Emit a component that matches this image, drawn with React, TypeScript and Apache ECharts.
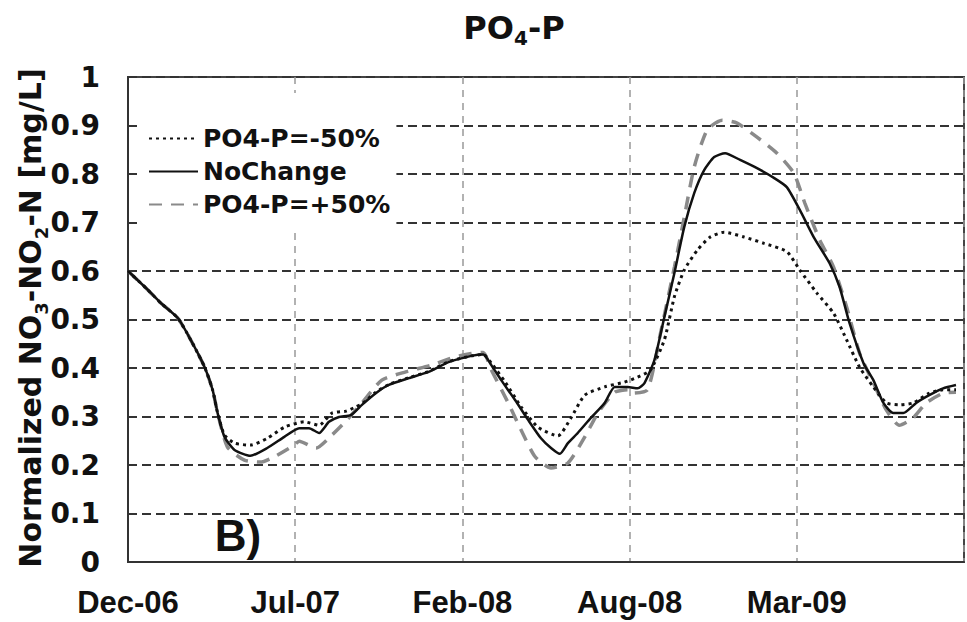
import React, { useEffect, useRef } from "react";
import * as echarts from "echarts";

// x positions are in axis-tick units (0 = Dec-06, 1 = Jul-07, 2 = Feb-08, 3 = Aug-08, 4 = Mar-09)
const xTickLabels = ["Dec-06", "Jul-07", "Feb-08", "Aug-08", "Mar-09", ""];
const yTicks = [0, 0.1, 0.2, 0.3, 0.4, 0.5, 0.6, 0.7, 0.8, 0.9, 1];

const noChange: [number, number][] = [
  [0, 0.6], [0.119, 0.561], [0.196, 0.534], [0.298, 0.503], [0.375, 0.458], [0.458, 0.402],
  [0.506, 0.355], [0.536, 0.307], [0.577, 0.258], [0.637, 0.231], [0.732, 0.219], [0.833, 0.235],
  [0.935, 0.258], [1.024, 0.276], [1.083, 0.276], [1.143, 0.266], [1.202, 0.289], [1.262, 0.299],
  [1.333, 0.303], [1.399, 0.324], [1.482, 0.348], [1.56, 0.365], [1.679, 0.379], [1.798, 0.392],
  [1.917, 0.412], [2.054, 0.425], [2.125, 0.428], [2.173, 0.406], [2.232, 0.375], [2.315, 0.334],
  [2.393, 0.293], [2.47, 0.255], [2.53, 0.235], [2.583, 0.223], [2.631, 0.245], [2.69, 0.266],
  [2.768, 0.297], [2.851, 0.328], [2.911, 0.361], [2.988, 0.361], [3.048, 0.358], [3.089, 0.369],
  [3.149, 0.417], [3.208, 0.505], [3.268, 0.596], [3.327, 0.691], [3.387, 0.761], [3.446, 0.808],
  [3.506, 0.835], [3.571, 0.843], [3.661, 0.829], [3.762, 0.812], [3.863, 0.792], [3.94, 0.773],
  [4.018, 0.726], [4.101, 0.67], [4.196, 0.616], [4.256, 0.567], [4.315, 0.493], [4.399, 0.41],
  [4.458, 0.375], [4.518, 0.328], [4.577, 0.307], [4.637, 0.307], [4.714, 0.328], [4.792, 0.344],
  [4.875, 0.358], [4.952, 0.365],
];

const minus50: [number, number][] = [
  [0, 0.6], [0.119, 0.561], [0.196, 0.534], [0.298, 0.503], [0.375, 0.458], [0.458, 0.402],
  [0.506, 0.355], [0.536, 0.307], [0.577, 0.262], [0.637, 0.245], [0.732, 0.241], [0.833, 0.255],
  [0.935, 0.278], [1.054, 0.289], [1.143, 0.282], [1.22, 0.307], [1.304, 0.311], [1.363, 0.32],
  [1.399, 0.326], [1.482, 0.35], [1.56, 0.366], [1.679, 0.38], [1.798, 0.393], [1.917, 0.413],
  [2.054, 0.425], [2.125, 0.428], [2.173, 0.41], [2.256, 0.371], [2.351, 0.32], [2.452, 0.278],
  [2.571, 0.26], [2.649, 0.297], [2.732, 0.344], [2.851, 0.361], [2.97, 0.371], [3.048, 0.381],
  [3.125, 0.396], [3.208, 0.458], [3.268, 0.547], [3.327, 0.602], [3.405, 0.643], [3.482, 0.67],
  [3.565, 0.68], [3.685, 0.67], [3.804, 0.657], [3.94, 0.64], [4.018, 0.602], [4.119, 0.555],
  [4.22, 0.513], [4.298, 0.458], [4.375, 0.402], [4.458, 0.361], [4.536, 0.328], [4.613, 0.324],
  [4.696, 0.328], [4.792, 0.348], [4.875, 0.355], [4.952, 0.355],
];

const plus50: [number, number][] = [
  [0, 0.6], [0.119, 0.561], [0.196, 0.534], [0.298, 0.503], [0.375, 0.458], [0.458, 0.402],
  [0.506, 0.355], [0.536, 0.307], [0.595, 0.237], [0.696, 0.21], [0.792, 0.206], [0.875, 0.217],
  [0.994, 0.241], [1.024, 0.249], [1.125, 0.235], [1.22, 0.262], [1.31, 0.293], [1.399, 0.328],
  [1.518, 0.375], [1.661, 0.392], [1.815, 0.406], [1.958, 0.423], [2.054, 0.43], [2.125, 0.432],
  [2.173, 0.396], [2.274, 0.328], [2.351, 0.272], [2.435, 0.217], [2.53, 0.194], [2.631, 0.204],
  [2.732, 0.258], [2.81, 0.307], [2.911, 0.35], [2.988, 0.355], [3.006, 0.348], [3.107, 0.355],
  [3.185, 0.472], [3.268, 0.608], [3.327, 0.711], [3.387, 0.815], [3.464, 0.891], [3.554, 0.911],
  [3.643, 0.905], [3.762, 0.876], [3.881, 0.843], [3.982, 0.802], [4.048, 0.74], [4.137, 0.664],
  [4.22, 0.608], [4.298, 0.526], [4.375, 0.431], [4.458, 0.369], [4.536, 0.313], [4.613, 0.282],
  [4.696, 0.297], [4.774, 0.328], [4.875, 0.348], [4.952, 0.35],
];

const FONT = "'DejaVu Sans', sans-serif";
const ARIAL = "'Liberation Sans', Arial, sans-serif";

export default function App() {
  const ref = useRef<HTMLDivElement>(null);
  useEffect(() => {
    if (!ref.current) return;
    const chart = echarts.init(ref.current, null, { renderer: "svg" });
    chart.setOption({
      animation: false,
      backgroundColor: "#fff",
      grid: {
        left: 128,
        right: 1,
        top: 77,
        bottom: 60,
        show: true,
        borderColor: "#444",
        borderWidth: 2,
      },
      xAxis: {
        type: "value",
        min: 0,
        max: 5,
        interval: 1,
        axisLine: { show: true, lineStyle: { color: "#333", width: 2 } },
        axisTick: { show: false },
        axisLabel: {
          margin: 25,
          fontFamily: ARIAL,
          fontWeight: "bold",
          fontSize: 31,
          color: "#111",
          formatter: (v: number) => xTickLabels[Math.round(v)] ?? "",
        },
        splitLine: { show: true, lineStyle: { color: "#999", width: 1.5, type: [7, 6] } },
      },
      yAxis: {
        type: "value",
        min: 0,
        max: 1,
        interval: 0.1,
        axisLine: { show: true, lineStyle: { color: "#333", width: 2 } },
        axisTick: { show: false },
        axisLabel: {
          margin: 28,
          fontFamily: FONT,
          fontWeight: "bold",
          fontSize: 28,
          color: "#111",
          formatter: (v: number) => {
            const t = yTicks.find((k) => Math.abs(k - v) < 1e-6);
            const val = t === undefined ? v : t;
            return val === 0 ? "0" : val === 1 ? "1" : val.toFixed(1);
          },
        },
        splitLine: { show: true, lineStyle: { color: "#333", width: 2, type: [9, 5] } },
      },
      legend: {
        orient: "vertical",
        left: 138,
        top: 93,
        padding: [33, 6, 12, 10],
        backgroundColor: "#fff",
        itemWidth: 49,
        itemHeight: 14,
        itemGap: 8,
        itemStyle: { opacity: 0 },
        data: ["PO4-P=-50%", "NoChange", "PO4-P=+50%"],
        textStyle: { fontFamily: FONT, fontWeight: "bold", fontSize: 25, color: "#111", lineHeight: 25 },
      },
      series: [
        {
          name: "PO4-P=+50%",
          type: "line",
          data: plus50,
          symbol: "none",
          smooth: 0.2,
          lineStyle: { color: "#8a8a8a", width: 3.5, type: [13, 9] },
          itemStyle: { color: "#8a8a8a" },
        },
        {
          name: "PO4-P=-50%",
          type: "line",
          data: minus50,
          symbol: "none",
          smooth: 0.2,
          lineStyle: { color: "#111", width: 3, type: [3, 4] },
          itemStyle: { color: "#111" },
        },
        {
          name: "NoChange",
          type: "line",
          data: noChange,
          symbol: "none",
          smooth: 0.2,
          lineStyle: { color: "#111", width: 2.5, type: "solid" },
          itemStyle: { color: "#111" },
        },
      ],
      graphic: [
        {
          type: "text",
          x: 514,
          y: 28,
          style: {
            text: "{b|PO}{s|4}{b|-P}",
            align: "center",
            verticalAlign: "middle",
            rich: {
              b: { fontFamily: FONT, fontWeight: "bold", fontSize: 32, fill: "#111", lineHeight: 40, verticalAlign: "middle" },
              s: { fontFamily: FONT, fontWeight: "bold", fontSize: 20, fill: "#111", lineHeight: 20, verticalAlign: "bottom" },
            },
          },
        },
        {
          type: "text",
          x: 30,
          y: 318,
          rotation: Math.PI / 2,
          style: {
            text: "{b|Normalized NO}{s|3}{b|-NO}{s|2}{b|-N [mg/L]}",
            align: "center",
            verticalAlign: "middle",
            rich: {
              b: { fontFamily: FONT, fontWeight: "bold", fontSize: 30, fill: "#111", lineHeight: 40, verticalAlign: "middle" },
              s: { fontFamily: FONT, fontWeight: "bold", fontSize: 18, fill: "#111", lineHeight: 18, verticalAlign: "bottom" },
            },
          },
        },
        {
          type: "text",
          x: 238,
          y: 535,
          style: {
            text: "B)",
            align: "center",
            verticalAlign: "middle",
            fontFamily: ARIAL,
            fontWeight: "bold",
            fontSize: 44,
            fill: "#111",
          },
        },
      ],
    });
    return () => chart.dispose();
  }, []);
  return (
    <div
      ref={ref}
      style={{ position: "fixed", left: 0, top: 0, width: 967, height: 622, background: "#fff" }}
    />
  );
}
